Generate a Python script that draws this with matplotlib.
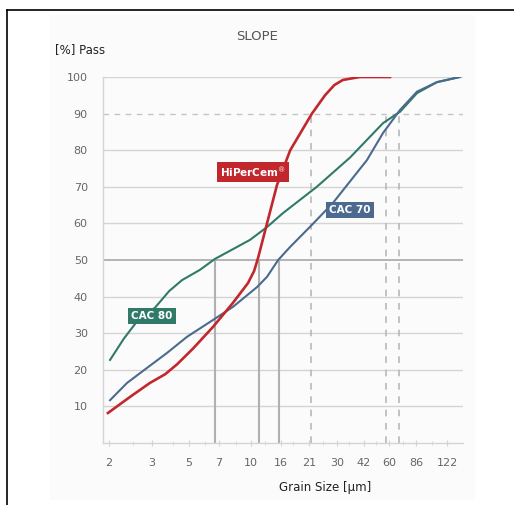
import numpy as np
import matplotlib
matplotlib.use("Agg")
import matplotlib.pyplot as plt
from matplotlib.lines import Line2D
from matplotlib.patches import Rectangle

# x axis labels (grain size, µm) and where they sit along the axis (uneven spacing)
tick_vals = [2, 3, 5, 7, 10, 16, 21, 30, 42, 60, 86, 122]
tick_pos = [109, 152, 189, 219, 251, 281, 309, 337, 364, 389, 416, 447]
minor_vals = [2.5, 4, 6, 8.5, 12.5, 18, 25, 35, 50, 72, 103]

# curves: grain size -> % passing
cac80_x = [2.02, 2.3, 2.63, 3.13, 3.8, 4.54, 5.65, 6.69, 8.2, 9.89, 12.85, 16.3, 23.2, 35.3, 55.1, 69.5, 87, 109, 141]
cac80_y = [22.7, 28.5, 33.6, 37.0, 41.5, 44.5, 47.3, 50.3, 53.0, 55.5, 59.0, 62.8, 70.0, 78.0, 87.4, 90.5, 95.6, 98.6, 100]

cac70_x = [2.02, 2.37, 2.86, 3.69, 4.86, 6.54, 8.18, 10.99, 12.85, 15.3, 17.5, 21.8, 28.5, 43.8, 55.1, 69.5, 87, 109, 141]
cac70_y = [11.7, 16.4, 20.5, 24.6, 29.0, 33.6, 37.2, 42.6, 45.4, 50.0, 53.6, 59.6, 65.6, 77.3, 84.7, 91.0, 96.0, 98.6, 100]

hpc_x = [1.98, 2.44, 2.94, 3.6, 4.24, 5.23, 6.54, 8.18, 9.67, 10.5, 11.16, 12.85, 15.03, 17.5, 21.8, 25.75, 29.0, 32.3, 39.9, 60.8]
hpc_y = [8.2, 12.6, 16.4, 18.8, 21.5, 25.8, 31.7, 38.3, 43.7, 47.0, 50.5, 60.0, 70.5, 80.0, 90.0, 95.0, 97.8, 99.2, 100, 100]

# d50 and d90 markers
d50_x = [6.69, 11.34, 15.5]
d90_x = [21.5, 57.5, 68.6]

RED = "#c1272d"
GREEN = "#2f7a68"
BLUE = "#4b6a8e"
GRID = "#d4d4d4"

# piecewise log mapping so ticks land where the original drew them
lv = np.log(np.array(tick_vals, dtype=float))
tp = np.array(tick_pos, dtype=float)
s0 = (tp[1] - tp[0]) / (lv[1] - lv[0])
s1 = (tp[-1] - tp[-2]) / (lv[-1] - lv[-2])
lv_ext = np.concatenate([[lv[0] - 5], lv, [lv[-1] + 5]])
tp_ext = np.concatenate([[tp[0] - 5 * s0], tp, [tp[-1] + 5 * s1]])


def fwd(v):
    v = np.clip(np.asarray(v, dtype=float), 1e-6, None)
    return np.interp(np.log(v), lv_ext, tp_ext)


def inv(p):
    return np.exp(np.interp(np.asarray(p, dtype=float), tp_ext, lv_ext))


fig = plt.figure(figsize=(5.14, 5.05), dpi=100, facecolor="white")
fig.add_artist(Rectangle((50 / 514, 5 / 505), 425 / 514, 485 / 505,
                         transform=fig.transFigure, facecolor="#fbfbfb", edgecolor="none", zorder=0))
ax = fig.add_axes([103 / 514, 1 - 443 / 505, 360 / 514, 366 / 505])
ax.set_facecolor("none")
ax.set_xscale("function", functions=(fwd, inv))
ax.set_xlim(inv(103), inv(463))
ax.set_ylim(0, 100)

# horizontal grid
for yv in range(10, 101, 10):
    if yv == 90:
        ax.axhline(yv, color="#c4c4c4", lw=1.0, ls=(0, (4, 4)), zorder=1)
    elif yv == 50:
        ax.axhline(yv, color="#a8a8a8", lw=1.2, zorder=1)
    else:
        ax.axhline(yv, color=GRID, lw=1.0, zorder=1)

for xv in d50_x:
    ax.plot([xv, xv], [0, 50], color="#b0b0b0", lw=1.5, zorder=1)
for xv in d90_x:
    ax.plot([xv, xv], [0, 90], color="#b8b8b8", lw=1.2, ls=(0, (4, 4)), zorder=1)

ax.plot(cac80_x, cac80_y, color=GREEN, lw=1.5, zorder=3, solid_joinstyle="round")
ax.plot(cac70_x, cac70_y, color=BLUE, lw=1.5, zorder=3, solid_joinstyle="round")
ax.plot(hpc_x, hpc_y, color=RED, lw=1.9, zorder=4, solid_joinstyle="round")

box_kw = dict(color="white", fontsize=7.5, fontweight="bold", ha="center", va="center", zorder=5)
ax.text(10.3, 74, r"HiPerCem$^{\circledR}$", bbox=dict(boxstyle="square,pad=0.3", fc=RED, ec="none"), **box_kw)
ax.text(35.3, 63.7, "CAC 70", bbox=dict(boxstyle="square,pad=0.3", fc=BLUE, ec="none"), **box_kw)
ax.text(3.0, 34.7, "CAC 80", bbox=dict(boxstyle="square,pad=0.3", fc=GREEN, ec="none"), **box_kw)

for side in ["top", "right"]:
    ax.spines[side].set_visible(False)
ax.spines["left"].set_color(GRID)
ax.spines["bottom"].set_color(GRID)
ax.spines["left"].set_linewidth(1.0)
ax.spines["bottom"].set_linewidth(1.0)

ax.set_yticks(range(10, 101, 10))
ax.tick_params(axis="y", length=0, pad=11, labelsize=8, labelcolor="#666666")
ax.set_xticks(tick_vals)
ax.set_xticklabels([str(t) for t in tick_vals])
ax.set_xticks(minor_vals, minor=True)
ax.tick_params(axis="x", which="major", length=4, direction="inout", color=GRID, pad=9,
               labelsize=8, labelcolor="#666666")
ax.tick_params(axis="x", which="minor", length=3, direction="inout", color=GRID)

fig.text(55 / 514, 1 - 50 / 505, "[%] Pass", fontsize=8.5, color="#222222", ha="left", va="center")
fig.text(257 / 514, 1 - 36 / 505, "SLOPE", fontsize=9.5, color="#555555", ha="center", va="center")
fig.text(325 / 514, 1 - 487 / 505, "Grain Size [\u00b5m]", fontsize=8.5, color="#222222", ha="center", va="center")

# frame lines
fig.add_artist(Line2D([7 / 514, 1], [1 - 10 / 505, 1 - 10 / 505], color="black", lw=1.2))
fig.add_artist(Line2D([7 / 514, 7 / 514], [0, 1 - 10 / 505], color="black", lw=1.2))

fig.savefig("out.png", dpi=100, facecolor=fig.get_facecolor())
